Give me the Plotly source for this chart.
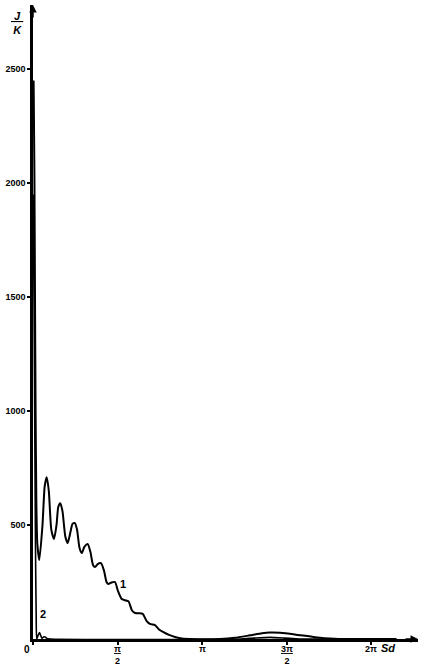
import plotly.graph_objects as go

# Sd in units of pi
c1_x = [0.0036, 0.0083, 0.0118, 0.0154, 0.0195, 0.0254, 0.0373, 0.0562, 0.0692, 0.0811,
        0.0935, 0.1083, 0.1243, 0.1391, 0.1497, 0.1615, 0.1746, 0.1911, 0.2053, 0.2219,
        0.2337, 0.2467, 0.2604, 0.2751, 0.2882, 0.3047, 0.3237, 0.3402, 0.3550, 0.3669,
        0.3846, 0.4024, 0.4201, 0.4349, 0.4456, 0.4645, 0.4852, 0.5030, 0.5249, 0.5444,
        0.5651, 0.5858, 0.6036, 0.6272, 0.6491, 0.6716, 0.6923, 0.7219, 0.7456, 0.7692,
        0.8047, 0.8402, 0.8817, 0.929, 1.1065, 1.195, 1.284, 1.355, 1.402, 1.462,
        1.550, 1.669, 1.787, 1.834, 2.006, 2.15]
c1_y = [2450, 2050, 1500, 1000, 620, 420, 346, 500, 670, 710,
        650, 480, 439, 500, 580, 596, 560, 450, 421, 470,
        505, 509, 480, 400, 377, 405, 417, 380, 325, 316,
        330, 333, 300, 250, 241, 248, 250, 210, 175, 170,
        165, 125, 114, 113, 110, 80, 66, 61, 42, 31,
        18, 9, 2, 0, 0, 5, 16, 25, 28, 27,
        20, 8, 1, 0, 0, 0]

c2_x = [0.0012, 0.0059, 0.0107, 0.0148, 0.0189, 0.0219, 0.0296, 0.0385, 0.0473, 0.0533,
        0.065, 0.074, 0.083, 0.1006, 1.225, 1.31, 1.402, 1.49, 1.58, 2.15]
c2_y = [1950, 1500, 900, 400, 100, 0, 15, 28, 12, 3,
        10, 8, 2, 0, 0, 4, 7, 4, 0, 0]

y_ticks = [500, 1000, 1500, 2000, 2500]
y_ticktext = ["500", "1000", "1500", "2000", "2500"]
x_ticks = [0, 0.5, 1, 1.5, 2]
x_ticktext = ["", "<u>π</u><br>2", "π", "<u>3π</u><br>2", "2π"]

XMAX = 2.278
YMAX = 2781

fig = go.Figure()
fig.add_trace(go.Scatter(x=c1_x, y=c1_y, mode="lines",
                         line=dict(color="black", width=2, shape="spline", smoothing=0.6),
                         showlegend=False, hoverinfo="skip"))
fig.add_trace(go.Scatter(x=c2_x, y=c2_y, mode="lines",
                         line=dict(color="black", width=1.6, shape="spline", smoothing=0.6),
                         showlegend=False, hoverinfo="skip"))

fam = "Liberation Sans"

fig.update_layout(
    template="none",
    width=421, height=667,
    margin=dict(l=33, r=3, t=5, b=28, autoexpand=False),
    plot_bgcolor="white", paper_bgcolor="white",
    font=dict(family=fam, size=9, color="black"),
    xaxis=dict(range=[0, XMAX], showgrid=False, zeroline=False, showline=True,
               automargin=False,
               linecolor="black", linewidth=2.5, ticks="outside", ticklen=3,
               tickwidth=1.5, tickcolor="black",
               tickvals=x_ticks, showticklabels=False),
    yaxis=dict(range=[0, YMAX], showgrid=False, zeroline=False, showline=True,
               automargin=False,
               linecolor="black", linewidth=2.5, ticks="outside", ticklen=3,
               tickwidth=1.5, tickcolor="black",
               tickvals=y_ticks, ticktext=["<b>" + t + "</b>" for t in y_ticktext],
               tickfont=dict(family=fam, size=9, color="black")),
)

annotations = [
    dict(x=0, y=YMAX, xref="x", yref="y", ax=0, ay=14,
         showarrow=True, arrowhead=2, arrowsize=1, arrowwidth=1.5, arrowcolor="black", text=""),
    dict(x=XMAX, y=0, xref="x", yref="y", ax=-14, ay=0,
         showarrow=True, arrowhead=2, arrowsize=1, arrowwidth=1.5, arrowcolor="black", text=""),
    dict(x=-0.042, y=0.995, xref="paper", yref="paper", showarrow=False,
         xanchor="center", yanchor="top",
         text="<i><b><u> J </u></b></i><br><i><b>K</b></i>", font=dict(family=fam, size=11, color="black")),
    dict(x=-0.016, y=0, xref="paper", yref="paper", showarrow=False,
         xanchor="center", yanchor="top", yshift=-3,
         text="<b>0</b>", font=dict(family=fam, size=10, color="black")),
    dict(x=2.1, y=0, xref="x", yref="paper", showarrow=False, yanchor="top", yshift=-1,
         text="<i><b>Sd</b></i>", font=dict(family=fam, size=11, color="black")),
    dict(x=0.53, y=240, xref="x", yref="y", showarrow=False,
         text="<b>1</b>", font=dict(family=fam, size=11, color="black")),
    dict(x=0.057, y=110, xref="x", yref="y", showarrow=False,
         text="<b>2</b>", font=dict(family=fam, size=11, color="black")),
]
for xv, tt in zip(x_ticks, x_ticktext):
    if tt:
        annotations.append(dict(x=xv, y=0, xref="x", yref="paper", showarrow=False,
                                xanchor="center", yanchor="top", yshift=-3, text="<b>" + tt + "</b>",
                                font=dict(family=fam, size=9, color="black")))
fig.update_layout(annotations=annotations)

fig.write_html("out.html", config={"displayModeBar": False},
               post_script="document.body.style.margin='0';")
